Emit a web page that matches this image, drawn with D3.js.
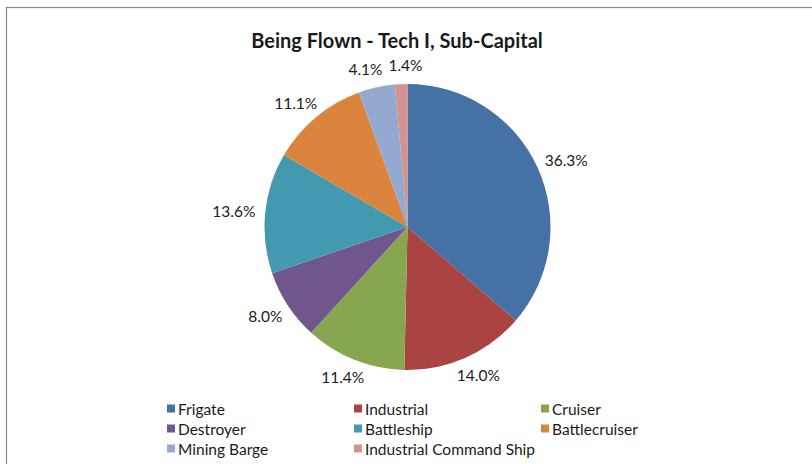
<!DOCTYPE html>
<html>
<head>
<meta charset="utf-8">
<script src="https://cdn.jsdelivr.net/npm/d3@7"></script>
<style>
  html, body { margin: 0; padding: 0; background: #fff; }
  svg { display: block; }
  text { font-family: "Lato", "Open Sans", sans-serif; fill: #1a1a1a; }
</style>
</head>
<body>
<svg id="chart" width="812" height="464"></svg>
<script>
const categories = ["Frigate", "Industrial", "Cruiser", "Destroyer", "Battleship", "Battlecruiser", "Mining Barge", "Industrial Command Ship"];
const values = [36.3, 14.0, 11.4, 8.0, 13.6, 11.1, 4.1, 1.4];
const colors = ["#4671A5", "#A94442", "#88A64F", "#6F578E", "#4299B0", "#DB843E", "#94A9D0", "#D49391"];
const title = "Being Flown - Tech I, Sub-Capital";

const W = 812, H = 464;
const cx = 407.5, cy = 227, r = 143;

const svg = d3.select("#chart");

svg.append("rect")
  .attr("x", 6.5).attr("y", 7.5)
  .attr("width", W + 20).attr("height", H + 20)
  .attr("fill", "#fff").attr("stroke", "#8a8a8a").attr("stroke-width", 1.2);

svg.append("text")
  .attr("x", 397).attr("y", 48)
  .attr("text-anchor", "middle")
  .style("font-size", "20px").style("font-weight", "bold")
  .text(title);

const data = categories.map((c, i) => ({ name: c, value: values[i], color: colors[i] }));

const pie = d3.pie().value(d => d.value).sort(null);
const arc = d3.arc().innerRadius(0).outerRadius(r);
const arcs = pie(data);

const g = svg.append("g").attr("transform", `translate(${cx},${cy})`);
g.selectAll("path").data(arcs).join("path")
  .attr("d", arc)
  .attr("fill", d => d.data.color);

const fmt = d3.format(".1f");
const lbl = g.selectAll("text.lbl").data(arcs).join("text")
  .attr("class", "lbl")
  .style("font-size", "15.5px")
  .attr("text-anchor", "middle")
  .attr("dominant-baseline", "central")
  .text(d => fmt(d.data.value) + "%");

const boxes = [];
lbl.each(function(d) {
  const a = (d.startAngle + d.endAngle) / 2;
  const sx = Math.sin(a), sy = -Math.cos(a);
  const bb = this.getBBox();
  const pad = 10;
  boxes.push({
    node: this,
    x: (r + pad) * sx + sx * bb.width / 2,
    y: (r + pad) * sy + sy * bb.height / 2,
    w: bb.width, h: bb.height
  });
});
// simple horizontal de-overlap between neighbouring labels
for (let iter = 0; iter < 20; iter++) {
  for (let i = 0; i < boxes.length; i++) {
    const A = boxes[i], B = boxes[(i + 1) % boxes.length];
    const ox = (A.w + B.w) / 2 + 6 - Math.abs(A.x - B.x);
    const oy = (A.h + B.h) / 2 - Math.abs(A.y - B.y);
    if (ox > 0 && oy > 0) {
      const s = A.x < B.x ? -1 : 1;
      A.x += s * ox / 2;
      B.x -= s * ox / 2;
    }
  }
}
boxes.forEach(b => d3.select(b.node).attr("x", b.x).attr("y", b.y));

const colX = [167, 354, 541];
const rowY = [409, 429, 449];
const leg = svg.append("g");
data.forEach((d, i) => {
  const col = i % 3, row = Math.floor(i / 3);
  leg.append("rect")
    .attr("x", colX[col]).attr("y", rowY[row] - 4.5)
    .attr("width", 8).attr("height", 8)
    .attr("fill", d.color);
  leg.append("text")
    .attr("x", colX[col] + 11).attr("y", rowY[row])
    .attr("dominant-baseline", "central")
    .style("font-size", "15.5px")
    .text(d.name);
});
</script>
</body>
</html>
